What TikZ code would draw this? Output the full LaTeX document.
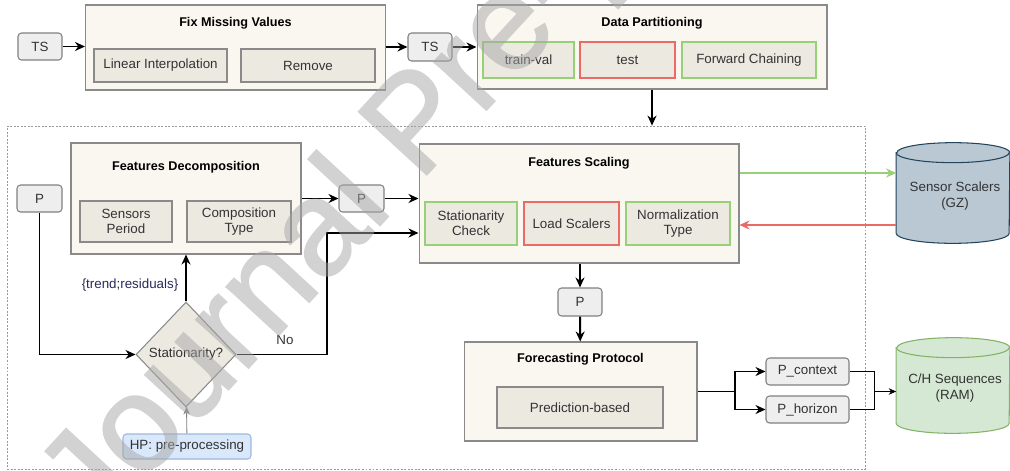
\documentclass[tikz,border=0pt]{standalone}
\usepackage{fontspec}
\setmainfont{Liberation Sans}
\newfontfamily\markfont[FakeBold=1.5]{Liberation Sans}
\usepackage{tikz}
\usetikzlibrary{calc,arrows.meta,shapes.geometric}
\usepackage{color}

\definecolor{stagefill}{HTML}{F9F7EF}
\definecolor{optfill}{HTML}{ECE9E1}
\definecolor{stageline}{HTML}{8A8A8A}
\definecolor{okline}{HTML}{97D077}
\definecolor{koline}{HTML}{EA6B66}
\definecolor{varfill}{HTML}{EEEEEE}
\definecolor{hpfill}{HTML}{DAE8FC}
\definecolor{hpline}{HTML}{9DB7DD}
\definecolor{gzfill}{HTML}{BAC8D3}
\definecolor{gzline}{HTML}{23445D}
\definecolor{ramfill}{HTML}{D5E8D4}
\definecolor{ramline}{HTML}{82B366}
\definecolor{labelblue}{HTML}{2A2A5A}

\begin{document}
\begin{tikzpicture}
			[x=0.02cm,y=-0.02cm]
			\tikzstyle{every node}=[font=\fontsize{7.6}{8.6}\selectfont, text=black!80, align=center, inner sep=1pt]
			\tikzstyle{stage}=[draw=stageline, fill=stagefill, line width=0.6pt]
			\tikzstyle{opt}=[draw=stageline, fill=optfill, line width=0.6pt]
			\tikzstyle{okopt}=[draw=okline, fill=optfill, line width=0.8pt]
			\tikzstyle{koopt}=[draw=koline, fill=optfill, line width=0.8pt]
			\tikzstyle{var}=[draw=gray, fill=varfill, rounded corners=2pt, line width=0.6pt, minimum width=0.88cm, minimum height=0.54cm]
			\tikzstyle{title}=[font=\fontsize{7.2}{8.6}\selectfont\bfseries, text=black]
			\tikzstyle{arr}=[line width=1.1pt, -{Stealth[length=2mm,width=1.8mm]}]
			\tikzstyle{thinarr}=[line width=0.5pt, -{Stealth[length=1.5mm,width=1.3mm]}]
			\tikzstyle{lid}=[x radius=1.13cm, y radius=0.2cm]

			\fill[white] (0,0) rectangle (1010,470);
			\useasboundingbox (0,0) rectangle (1010,470);

			% top row: cleaning and partitioning
			\node[var] (ts) at (40,46.5) {TS};
			\node[stage, minimum width=6cm, minimum height=1.7cm] (fmv) at (235.5,47.5) {};
			\node[title] (fmvt) at (235.5,23) {Fix Missing Values};
			\node[opt, minimum width=2.66cm, minimum height=0.66cm] (li) at (160.5,65.5) {Linear Interpolation};
			\node[opt, minimum width=2.68cm, minimum height=0.66cm] (rm) at (308,65.5) {Remove};

			\node[var, minimum height=0.56cm] (ts2) at (430,47) {TS};
			\node[stage, minimum width=7cm, minimum height=1.68cm] (dp) at (652,47) {};
			\node[title] (dpt) at (652,23) {Data Partitioning};
			\node[okopt, minimum width=1.82cm, minimum height=0.72cm] (tv) at (528.5,60) {train-val};
			\node[koopt, minimum width=1.9cm, minimum height=0.72cm] (te) at (627.5,60) {test};
			\node[okopt, minimum width=2.68cm, minimum height=0.72cm] (fc) at (749,60) {Forward Chaining};

			% dotted frame round the per-sensor steps
			\node[draw=gray!80, dash pattern=on 1.1pt off 0.9pt, line width=0.5pt, minimum width=17.18cm, minimum height=6.86cm] (box) at (436.5,297.5) {};

			% decomposition branch
			\node[var, minimum width=0.9cm] (p1) at (39.5,198.5) {P};
			\node[stage, minimum width=4.6cm, minimum height=2.22cm] (fd) at (186,198.5) {};
			\node[title] (fdt) at (186,167) {Features Decomposition};
			\node[opt, minimum width=1.84cm, minimum height=0.82cm] (sp) at (126,221.5) {Sensors\\Period};
			\node[opt, minimum width=2.08cm, minimum height=0.82cm] (ct) at (239,221.5) {Composition\\Type};
			\node[diamond, draw=stageline, fill=optfill, line width=0.6pt, inner sep=0pt, minimum width=2cm, minimum height=2.1cm] (st) at (186,354.5) {Stationarity?};
			\node[draw=hpline, fill=hpfill, rounded corners=2pt, line width=0.6pt, minimum width=2.56cm, minimum height=0.5cm] (hp) at (187,446.5) {HP: pre-processing};
			\node[text=labelblue] (tr) at (130,285) {\{trend;residuals\}};
			\node (no) at (285,340) {No};
			\node[var, minimum width=0.9cm] (p2) at (361.5,198.5) {P};

			% scaling
			\node[stage, minimum width=6.4cm, minimum height=2.38cm] (fs) at (579,203.5) {};
			\node[title] (fst) at (579,163) {Features Scaling};
			\node[okopt, minimum width=1.84cm, minimum height=0.86cm] (sc) at (471,223.5) {Stationarity\\Check};
			\node[koopt, minimum width=1.9cm, minimum height=0.86cm] (ls) at (571.5,223.5) {Load Scalers};
			\node[okopt, minimum width=2.08cm, minimum height=0.86cm] (nt) at (678,223.5) {Normalization\\Type};

			% scaler store
			\node[minimum width=2.26cm, minimum height=2cm] (gz) at (953,193) {};
			\draw[draw=gzline, fill=gzfill, line width=0.6pt] ([yshift=-0.2cm]gz.north west) -- ([yshift=0.2cm]gz.south west) arc[lid, start angle=180, end angle=360] -- ([yshift=-0.2cm]gz.north east) arc[lid, start angle=0, end angle=180] -- cycle;
			\draw[draw=gzline, line width=0.6pt] ([yshift=-0.2cm]gz.north west) arc[lid, start angle=180, end angle=360];
			\node (gzt) at (955,196) {Sensor Scalers\\(GZ)};

			% forecasting protocol
			\node[var, minimum height=0.56cm] (p3) at (580,302) {P};
			\node[stage, minimum width=4.66cm, minimum height=1.98cm] (fp) at (580.5,391.5) {};
			\node[title] (fpt) at (580.5,359) {Forecasting Protocol};
			\node[opt, minimum width=3.32cm, minimum height=0.82cm] (pb) at (580,407.5) {Prediction-based};
			\node[var, minimum width=1.66cm] (pc) at (807.5,371.5) {P\_context};
			\node[var, minimum width=1.66cm] (ph) at (807.5,409.5) {P\_horizon};

			% sequence store
			\node[minimum width=2.26cm, minimum height=1.9cm] (ram) at (953,385.5) {};
			\draw[draw=ramline, fill=ramfill, line width=0.6pt] ([yshift=-0.2cm]ram.north west) -- ([yshift=0.2cm]ram.south west) arc[lid, start angle=180, end angle=360] -- ([yshift=-0.2cm]ram.north east) arc[lid, start angle=0, end angle=180] -- cycle;
			\draw[draw=ramline, line width=0.6pt] ([yshift=-0.2cm]ram.north west) arc[lid, start angle=180, end angle=360];
			\node (ramt) at (955,388) {C/H Sequences\\(RAM)};

			\coordinate (nb) at (327,354.5);
			\coordinate (sp1) at (735,391.5);
			\coordinate (jn) at (874,391.5);

			\draw[arr] (ts) -- (ts -| fmv.west);
			\draw[arr] (fmv.east |- ts2) -- (ts2);
			\draw[arr] (ts2) -- (ts2 -| dp.west);
			\draw[arr] (dp.south) -- (dp.south |- box.north);
			\draw[arr] (p1) |- (st);
			\draw[arr] (st) -- (fd);
			\draw[arr] (st.east) -- (nb) |- ([yshift=-0.59cm]fs.west);
			\draw[thinarr, draw=gray] (hp) -- (st);
			\draw[arr] (fd.east |- p2) -- (p2);
			\draw[arr] (p2) -- (p2 -| fs.west);
			\draw[arr, draw=okline] ([yshift=0.61cm]fs.east) -- ([yshift=0.61cm]fs.east -| gz.west);
			\draw[arr, draw=koline] ([yshift=-0.43cm]fs.east -| gz.west) -- ([yshift=-0.43cm]fs.east);
			\draw[arr] (fs.south -| p3) -- (p3);
			\draw[arr] (p3) -- (fp);
			\draw[line width=1.1pt] (fp.east) -- (sp1);
			\draw[arr] (sp1) |- (pc);
			\draw[arr] (sp1) |- (ph);
			\draw[line width=0.5pt] (pc.east) -| (jn);
			\draw[line width=0.5pt] (ph.east) -| (jn);
			\draw[thinarr] (jn) -- (jn -| ram.west);

			% watermark
			\begin{scope}[transparency group, opacity=0.5]
			\node[rotate=47.3, anchor=base west, text=black!35, inner sep=0pt, font=\fontsize{76.5}{76.5}\markfont] (wm) at (95,534) {Journal Pre-proof};
			\end{scope}
		\end{tikzpicture}
\end{document}
